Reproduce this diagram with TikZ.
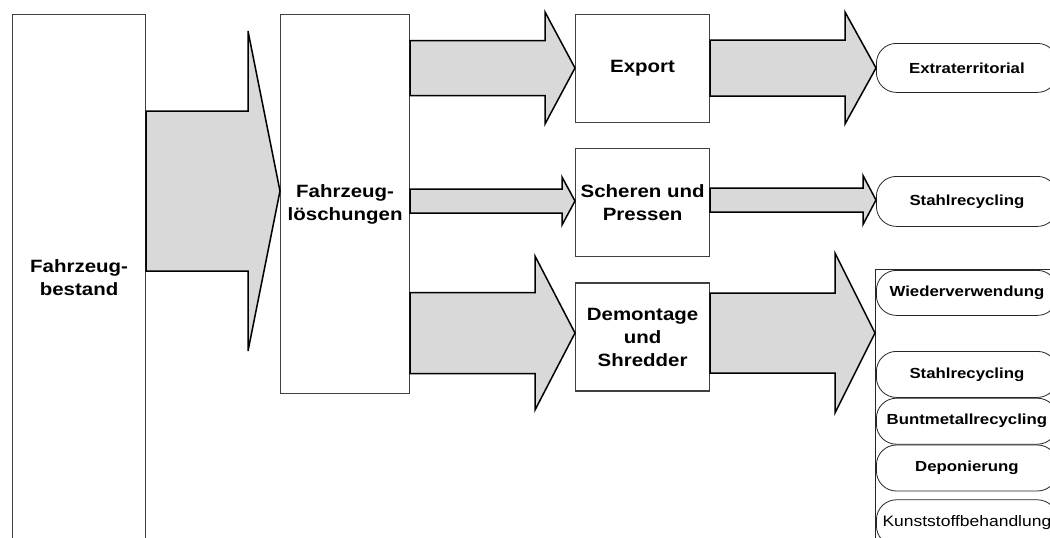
\documentclass[tikz,border=0pt]{standalone}
\usepackage{fontspec}
\setmainfont{Liberation Sans}[FakeStretch=1.15]
\usepackage{tikz}
\usetikzlibrary{calc,positioning}

% block arrow from one node to the next: src, dst, y, shaft half, head half, head length
\newcommand{\flowarrow}[6]{%
  \coordinate (fa-s) at (#1.east |- 0,#3);
  \coordinate (fa-t) at (#2.west |- 0,#3);
  \draw[flow] ($(fa-s)+(0,-#4)$) -- ($(fa-t)+(-#6,-#4)$) -- ($(fa-t)+(-#6,-#5)$)
    -- (fa-t) -- ($(fa-t)+(-#6,#5)$) -- ($(fa-t)+(-#6,#4)$) -- ($(fa-s)+(0,#4)$) -- cycle;}

\begin{document}
\begin{tikzpicture}[x=1pt, y=-1pt,
  stage/.style={rectangle, draw=black!75, line width=1.2pt, fill=white, align=center, inner sep=0pt, font=\bfseries\fontsize{17.8}{23}\selectfont},
  sink/.style={rectangle, rounded corners=20pt, draw=black!85, line width=0.8pt, fill=white, inner sep=0pt, minimum width=181, minimum height=46, anchor=north west, font=\bfseries\fontsize{14.6}{17}\selectfont},
  flow/.style={draw=black, line width=1.5pt, fill=black!15, line join=miter}
]
  \useasboundingbox (0,0) rectangle (1050,538);
  \fill[white] (0,0) rectangle (1050,538);
  \clip (0,0) rectangle (1050,538);

  % stages
  \node[stage, anchor=north west, minimum width=133, minimum height=526] (bestand) at (12,14) {Fahrzeug-\\bestand};
  \node[stage, anchor=north west, minimum width=129, minimum height=379] (loesch) at (280,14) {Fahrzeug-\\löschungen};
  \node[stage, anchor=north west, minimum width=134, minimum height=108] (export) at (575,14) {Export};
  \node[stage, below=25pt of export, minimum width=134, minimum height=108] (scheren) {Scheren und\\Pressen};
  \node[stage, below=25pt of scheren, minimum width=134, minimum height=108] (demontage) {Demontage\\und\\Shredder};

  % end points
  \node[sink, minimum height=49] (extra) at (876,43) {Extraterritorial};
  \node[sink, minimum height=50] (stahlA) at (876,176) {Stahlrecycling};
  \node[rectangle, draw=black!85, line width=0.8pt, anchor=north west, minimum width=200, minimum height=300] (stack) at (875,269) {};
  \node[sink, minimum height=45] (wieder) at (876,270) {Wiederverwendung};
  \node[sink] (stahlB) at (876,351) {Stahlrecycling};
  \node[sink, below=0pt of stahlB.south west, anchor=north west] (bunt) {Buntmetallrecycling};
  \node[sink, below=0pt of bunt.south west, anchor=north west] (depon) {Deponierung};
  \node[sink, below=8pt of depon.south west, anchor=north west, font=\mdseries\fontsize{15.2}{17}\selectfont] (kunst) {Kunststoffbehandlung};

  % flows
  \flowarrow{bestand}{loesch}{191}{80}{160}{32}
  \flowarrow{loesch}{export}{68}{27.5}{56}{30}
  \flowarrow{loesch}{scheren}{201}{12}{24}{13}
  \flowarrow{loesch}{demontage}{333}{40.5}{77}{40}
  \flowarrow{export}{extra}{68}{28}{56}{31}
  \flowarrow{scheren}{stahlA}{200}{12}{24.5}{13}
  \flowarrow{demontage}{stack}{333}{40}{80}{40}
\end{tikzpicture}
\end{document}
